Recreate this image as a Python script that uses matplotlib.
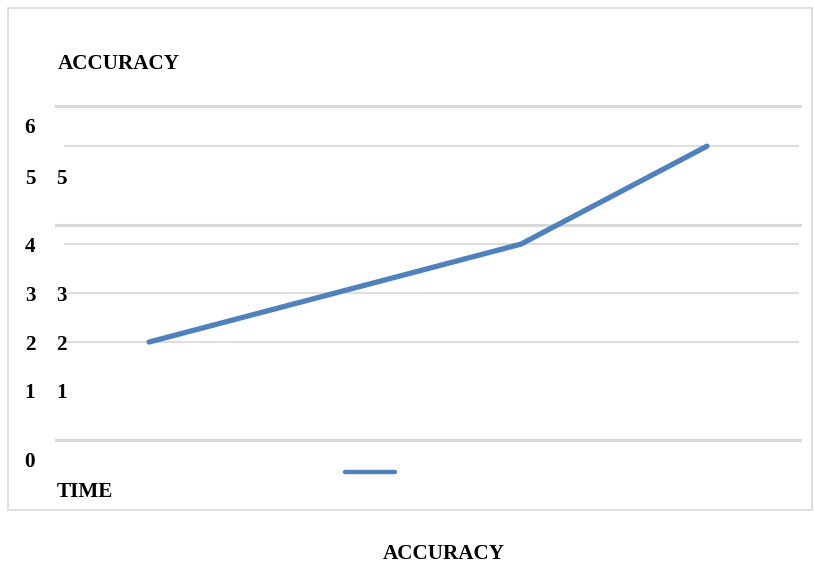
import matplotlib
matplotlib.use("Agg")
import matplotlib.pyplot as plt
from matplotlib.lines import Line2D
from matplotlib.patches import Rectangle

# series
time_steps = [0, 1, 2, 3]
accuracy = [2, 3, 4, 6]

# grid levels: light lines and the heavier ones behind them
light_grid = [2, 3, 4, 6]
heavy_grid = [0, 4.39, 6.82]

# tick label columns (text, value)
outer_labels = [("6", 6.43), ("5", 5.37), ("4", 4), ("3", 3), ("2", 2), ("1", 1), ("0", -0.39)]
inner_labels = [("5", 5.37), ("3", 3), ("2", 2), ("1", 1)]

blue = "#4f81bd"
grid_col = "#d9d9d9"
font = dict(family="Liberation Serif", weight="bold", size=15.2, color="black")

fig = plt.figure(figsize=(8.14, 5.63), dpi=100)
fig.patch.set_facecolor("white")

# outer chart frame
fig.patches.append(Rectangle((8 / 814, 1 - 510 / 563), 804 / 814, 502 / 563,
                             transform=fig.transFigure, fill=False,
                             edgecolor=grid_col, linewidth=1.2))

ax = fig.add_axes([56 / 814, 123 / 563, 744 / 814, 334 / 563])
ax.set_xlim(-0.5, 3.5)
ax.set_ylim(0, 6.82)
ax.axis("off")

for y in heavy_grid:
    ax.axhline(y, color=grid_col, linewidth=2.2, zorder=1, clip_on=False)
for y in light_grid:
    ax.axhline(y, xmin=0.012, xmax=0.997, color="#dedede", linewidth=1.4, zorder=1)

ax.plot(time_steps, accuracy, color=blue, linewidth=3.8,
        solid_capstyle="round", solid_joinstyle="round", zorder=3)

# labels sit a few pixels below their nominal level
trans = ax.get_yaxis_transform()
nudge = -0.05
for txt, y in outer_labels:
    ax.text(-0.035, y + nudge, txt, transform=trans, ha="center", va="center", **font)
for txt, y in inner_labels:
    ax.text(0.007, y + nudge, txt, transform=trans, ha="center", va="center", **font)

fig.text(58 / 814, 1 - 64 / 563, "ACCURACY", ha="left", va="center", **font)
fig.text(57 / 814, 1 - 492 / 563, "TIME", ha="left", va="center", **font)
fig.text(444 / 814, 1 - 554 / 563, "ACCURACY", ha="center", va="center", **font)

# legend key with no label
fig.lines.append(Line2D([345 / 814, 395 / 814], [1 - 472 / 563, 1 - 472 / 563],
                        transform=fig.transFigure, color=blue, linewidth=3.2,
                        solid_capstyle="round"))

fig.savefig("out.png", dpi=100)
